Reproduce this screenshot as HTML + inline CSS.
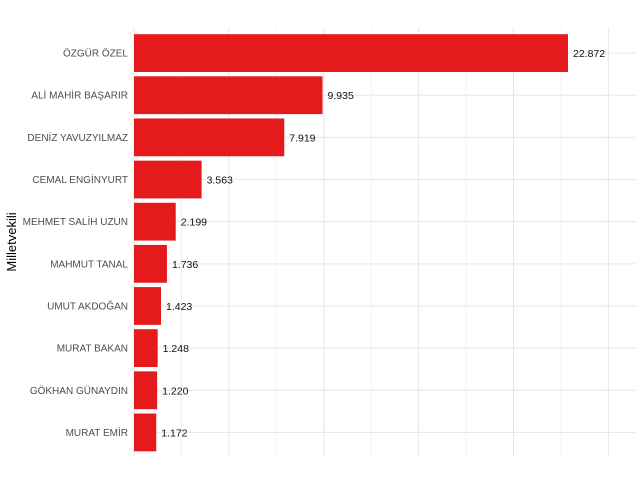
<!DOCTYPE html>
<html><head><meta charset="utf-8"><style>
body{margin:0;background:#fff}
svg{display:block;font-family:"Liberation Sans",sans-serif}
</style></head><body>
<svg id="c" width="640" height="480"></svg>
<script>
const categories=["ÖZGÜR ÖZEL","ALİ MAHİR BAŞARIR","DENİZ YAVUZYILMAZ","CEMAL ENGİNYURT","MEHMET SALİH UZUN","MAHMUT TANAL","UMUT AKDOĞAN","MURAT BAKAN","GÖKHAN GÜNAYDIN","MURAT EMİR"];
const values=[22872,9935,7919,3563,2199,1736,1423,1248,1220,1172];
const valueLabels=["22.872","9.935","7.919","3.563","2.199","1.736","1.423","1.248","1.220","1.172"];
const gridValues=[0,2500,5000,7500,10000,12500,15000,17500,20000,22500,25000];
const NS="http://www.w3.org/2000/svg";
const svg=document.getElementById('c');
const x0=134,pxPer=434/22872,plotTop=32,step=42.15,bandH=37.8;
const xs=v=>x0+v*pxPer;
const yc=i=>plotTop+step*(i+0.5);
function mk(t,a,p){const e=document.createElementNS(NS,t);for(const k in a)e.setAttribute(k,a[k]);(p||svg).appendChild(e);return e;}
const grid=mk('g',{});


gridValues.forEach(v=>{const l=mk('line',{x1:xs(v),x2:xs(v),y1:28,y2:457,stroke:v%5000===0?'#e6e6e6':'#efefef','stroke-width':v%5000===0?1:0.8},grid);

});
categories.forEach((c,i)=>{const l=mk('line',{x1:x0,x2:636,y1:yc(i),y2:yc(i),stroke:'#e6e6e6','stroke-width':1},grid);

});
categories.forEach((c,i)=>{
 const r=mk('rect',{x:x0,y:yc(i)-bandH/2,width:xs(values[i])-x0,height:bandH,fill:'#e41a1c'});
 
 
 const t=mk('text',{x:xs(values[i])+5,y:yc(i)+4,'font-size':10.5,fill:'#111'});t.textContent=valueLabels[i];
 
 
 const y=mk('text',{x:128,y:yc(i)+3.5,'font-size':10,fill:'#4d4d4d','text-anchor':'end'});y.textContent=c;
 
 
});
const yt=mk('text',{x:0,y:0,'font-size':13,fill:'#000','text-anchor':'middle',transform:'translate(16,242) rotate(-90)'});
yt.textContent='Milletvekili';


</script>
</body></html>
